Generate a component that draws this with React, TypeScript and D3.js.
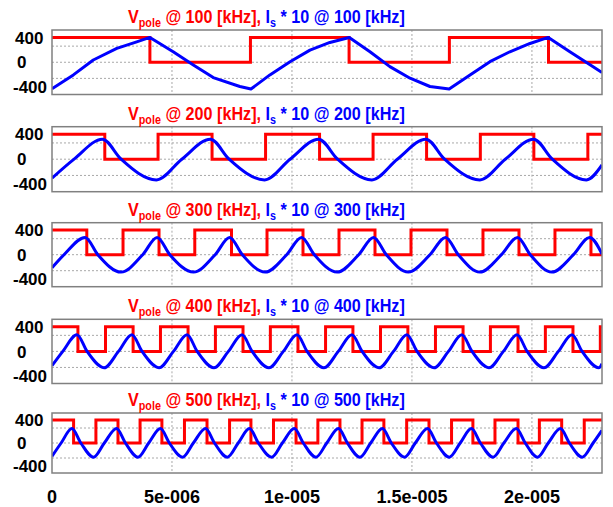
import React, { useRef, useEffect } from "react";
import * as d3 from "d3";

const width = 613;
const height = 507;

// time axis in microseconds
const tEnd = 22.92;
const xTickValues = [0, 5, 10, 15, 20];
const xTickLabels = ["0", "5e-006", "1e-005", "1.5e-005", "2e-005"];
const yTickValues = [400, 0, -400];
const yGridValues = [260, 0, -260];

const freqs = [100, 200, 300, 400, 500];

// Vpole: starts at 400, toggles 400 <-> 0 at these instants (us)
const vpoleHigh = 400;
const vpoleEdges100 = [4.08, 8.27, 12.38, 16.56, 20.69];
const vpoleEdges200 = [2.2, 4.42, 6.67, 8.9, 11.15, 13.38, 15.61, 17.85, 20.08, 22.33];
const vpoleEdges300 = [1.45, 2.96, 4.46, 5.95, 7.48, 8.96, 10.46, 11.96, 13.46, 14.96, 16.46, 17.96, 19.46, 20.96, 22.46];
const vpoleEdges400 = [1.08, 2.23, 3.38, 4.52, 5.67, 6.81, 7.96, 9.1, 10.25, 11.4, 12.54, 13.69, 14.83, 15.98, 17.13, 18.27, 19.42, 20.56, 21.71, 22.85];
const vpoleEdges500 = [0.9, 1.83, 2.75, 3.67, 4.58, 5.52, 6.46, 7.4, 8.29, 9.23, 10.17, 11.08, 12, 12.92, 13.83, 14.78, 15.71, 16.65, 17.54, 18.46, 19.42, 20.31, 21.24, 22.18];

// Is * 10 samples: [t (us), value]
const is100 = [
  [0, -428], [0.89, -204], [1.72, 36], [2.7, 223], [3.53, 329], [4.08, 400],
  [5.05, 169], [5.89, -44], [6.72, -247], [7.83, -391], [8.29, -432],
  [9.08, -204], [9.92, 9], [10.75, 196], [11.58, 319], [12.39, 400],
  [13.25, 169], [14.08, -71], [14.92, -257], [15.75, -391], [16.55, -433],
  [17.42, -204], [18.25, 9], [19.08, 169], [19.92, 303], [20.68, 400],
  [21.58, 169], [22.55, -71], [22.92, -165],
];
const is200 = [
  [0, -304], [0.92, 0], [2.1, 321], [2.88, 0], [4.35, -331], [5.41, 0], [6.6, 321],
  [7.38, 0], [8.86, -331], [9.92, 0], [11.11, 321], [11.9, 0], [13.33, -331],
  [14.39, 0], [15.58, 321], [16.36, 0], [17.83, -331], [18.89, 0], [20.07, 321],
  [20.85, 0], [22.27, -331], [22.92, -92],
];
const is300 = [
  [0, -213], [0.5, 0], [1.38, 280], [1.91, 0], [2.88, -283], [3.78, 0], [4.38, 280],
  [4.91, 0], [5.9, -283], [6.8, 0], [7.4, 280], [7.93, 0], [8.88, -283], [9.78, 0],
  [10.4, 280], [10.93, 0], [11.88, -283], [12.78, 0], [13.4, 280], [13.93, 0],
  [14.85, -283], [15.75, 0], [16.4, 280], [16.93, 0], [17.83, -283], [18.73, 0],
  [19.4, 280], [19.93, 0], [20.83, -283], [21.73, 0], [22.4, 280], [22.92, 10],
];
const is400 = [
  [0, -232], [0.45, 0], [1.04, 270], [1.46, 0], [2.17, -265], [2.77, 0], [3.33, 270],
  [3.75, 0], [4.46, -265], [5.06, 0], [5.63, 270], [6.05, 0], [6.75, -265], [7.35, 0],
  [7.92, 270], [8.34, 0], [9.04, -265], [9.64, 0], [10.21, 270], [10.63, 0],
  [11.33, -265], [11.93, 0], [12.5, 270], [12.92, 0], [13.63, -265], [14.23, 0],
  [14.79, 270], [15.21, 0], [15.92, -265], [16.52, 0], [17.08, 270], [17.5, 0],
  [18.21, -265], [18.81, 0], [19.38, 270], [19.8, 0], [20.5, -265], [21.1, 0],
  [21.67, 270], [22.09, 0], [22.79, -265], [22.92, -200],
];
const is500 = [
  [0, -231], [0.38, 0], [0.83, 250], [1.2, 0], [1.73, -245], [2.18, 0], [2.69, 250],
  [3.06, 0], [3.58, -245], [4.03, 0], [4.52, 250], [4.89, 0], [5.44, -245], [5.89, 0],
  [6.4, 250], [6.77, 0], [7.31, -245], [7.76, 0], [8.23, 250], [8.6, 0], [9.15, -245],
  [9.6, 0], [10.1, 250], [10.47, 0], [11, -245], [11.45, 0], [11.94, 250], [12.31, 0],
  [12.83, -245], [13.28, 0], [13.77, 250], [14.14, 0], [14.69, -245], [15.14, 0],
  [15.65, 250], [16.02, 0], [16.56, -245], [17.01, 0], [17.48, 250], [17.85, 0],
  [18.38, -245], [18.83, 0], [19.35, 250], [19.72, 0], [20.23, -245], [20.68, 0],
  [21.19, 250], [21.56, 0], [22.1, -245], [22.55, 0], [22.92, 220],
];

const vpoleEdges = [vpoleEdges100, vpoleEdges200, vpoleEdges300, vpoleEdges400, vpoleEdges500];
const isSeries = [is100, is200, is300, is400, is500];

// panel boxes (px)
const panelTop = [30, 126.7, 222.7, 319.3, 413];
const panelBottom = [94.5, 191.7, 286.7, 383.5, 473];
const yMax = 520;

const RED = "#ff0000";
const BLUE = "#0000ff";
const font = "'Liberation Sans', Arial, sans-serif";
const titleX = 128;
const titleWidth = 277;

function App() {
  const ref = useRef<SVGSVGElement>(null);

  useEffect(() => {
    const svg = d3.select(ref.current);
    svg.selectAll("*").remove();

    svg.append("rect").attr("width", width).attr("height", height).attr("fill", "#fff");

    const x = d3.scaleLinear().domain([0, tEnd]).range([52, 602]);

    freqs.forEach((f, i) => {
      const top = panelTop[i];
      const bottom = panelBottom[i];
      const y = d3.scaleLinear().domain([-yMax, yMax]).range([bottom, top]);
      const g = svg.append("g");

      const clipId = `clip${i}`;
      g.append("clipPath")
        .attr("id", clipId)
        .append("rect")
        .attr("x", x(0))
        .attr("y", top)
        .attr("width", x(tEnd) - x(0))
        .attr("height", bottom - top);

      // grid
      g.selectAll(".vgrid")
        .data(xTickValues.slice(1))
        .enter()
        .append("line")
        .attr("x1", (d) => x(d))
        .attr("x2", (d) => x(d))
        .attr("y1", top)
        .attr("y2", bottom)
        .attr("stroke", "#a8a8a8")
        .attr("stroke-dasharray", "2,2");
      g.selectAll(".hgrid")
        .data(yGridValues)
        .enter()
        .append("line")
        .attr("x1", x(0))
        .attr("x2", x(tEnd))
        .attr("y1", (d) => y(d))
        .attr("y2", (d) => y(d))
        .attr("stroke", "#a8a8a8")
        .attr("stroke-dasharray", "2,2");

      // Vpole step wave
      const pts: [number, number][] = [[0, vpoleHigh]];
      let level = vpoleHigh;
      vpoleEdges[i].forEach((t) => {
        level = level === vpoleHigh ? 0 : vpoleHigh;
        pts.push([t, level]);
      });
      pts.push([tEnd, level]);

      const stepLine = d3
        .line<[number, number]>()
        .x((d) => x(d[0]))
        .y((d) => y(d[1]))
        .curve(d3.curveStepAfter);

      g.append("path")
        .datum(pts)
        .attr("clip-path", `url(#${clipId})`)
        .attr("fill", "none")
        .attr("stroke", RED)
        .attr("stroke-width", 3)
        .attr("d", stepLine);

      // Is * 10
      const curLine = d3
        .line<number[]>()
        .x((d) => x(d[0]))
        .y((d) => y(d[1]))
        .curve(i === 0 ? d3.curveLinear : d3.curveMonotoneX);

      g.append("path")
        .datum(isSeries[i])
        .attr("clip-path", `url(#${clipId})`)
        .attr("fill", "none")
        .attr("stroke", BLUE)
        .attr("stroke-width", 3)
        .attr("stroke-linejoin", "round")
        .attr("d", curLine);

      // frame
      g.append("rect")
        .attr("x", x(0))
        .attr("y", top)
        .attr("width", x(tEnd) - x(0))
        .attr("height", bottom - top)
        .attr("fill", "none")
        .attr("stroke", "#808080")
        .attr("stroke-width", 1.5);

      // y tick labels
      g.selectAll(".ylab")
        .data(yTickValues)
        .enter()
        .append("text")
        .attr("x", (d) => (d < 0 ? 13 : d === 0 ? 17 : 15))
        .attr("y", (d) => y(d))
        .attr("dy", "0.36em")
        .attr("font-family", font)
        .attr("font-weight", "bold")
        .attr("font-size", 17)
        .attr("fill", "#000")
        .text((d) => String(d));

      // title
      const title = g
        .append("text")
        .attr("x", titleX)
        .attr("y", top - 7)
        .attr("font-family", font)
        .attr("font-weight", "bold")
        .attr("font-size", 18);
      title.append("tspan").attr("fill", RED).text("V");
      title.append("tspan").attr("fill", RED).attr("font-size", 12).attr("dy", 4).text("pole");
      title.append("tspan").attr("fill", RED).attr("dy", -4).text(` @ ${f} [kHz],`);
      title.append("tspan").attr("fill", BLUE).text(" I");
      title.append("tspan").attr("fill", BLUE).attr("font-size", 12).attr("dy", 4).text("s");
      title.append("tspan").attr("fill", BLUE).attr("dy", -4).text(` * 10 @ ${f} [kHz]`);
      const node = title.node() as SVGTextElement;
      const w = node.getComputedTextLength ? node.getBBox().width : titleWidth;
      const s = titleWidth / w;
      title.attr("transform", `translate(${titleX},0) scale(${s},1) translate(${-titleX},0)`);
    });

    // x tick labels
    svg
      .selectAll(".xlab")
      .data(xTickValues)
      .enter()
      .append("text")
      .attr("x", (d) => x(d))
      .attr("y", 497)
      .attr("dy", "0.36em")
      .attr("text-anchor", "middle")
      .attr("font-family", font)
      .attr("font-weight", "bold")
      .attr("font-size", 18)
      .attr("fill", "#000")
      .text((d, i) => xTickLabels[i]);
  }, []);

  return (
    <svg
      ref={ref}
      width={width}
      height={height}
      style={{ position: "absolute", left: 0, top: 0, display: "block" }}
    />
  );
}

export default App;
